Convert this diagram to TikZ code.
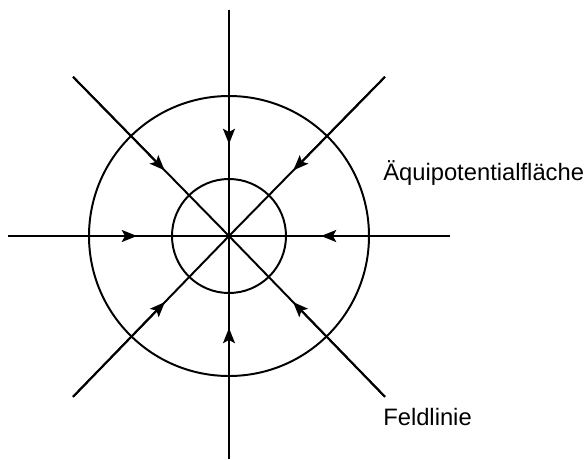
\documentclass[tikz,border=0pt]{standalone}
\usepackage{fontspec}
\setmainfont{Liberation Sans}
\usepackage{tikz}
\usetikzlibrary{arrows.meta, calc}

\begin{document}
\begin{tikzpicture}[>={Stealth[length=3.8mm,width=3mm,inset=0.8mm]},
   fline/.style={line width=1.4pt},
   equi/.style={line width=1.4pt},
   lbl/.style={anchor=base west,inner sep=0pt,font=\fontsize{16.9}{20}\selectfont}]
  \useasboundingbox (-5.725,-5.575) rectangle (8.925,5.9);
  \coordinate (O) at (0,0);
  % equipotential surfaces
  \draw[equi] (O) circle (3.5);
  \draw[equi] (O) circle (1.425);
  % ends of the field lines
  \coordinate (n) at (0,5.66);
  \coordinate (s) at (0,-5.575);
  \coordinate (w) at (-5.525,0);
  \coordinate (e) at (5.525,0);
  \coordinate (nw) at (-3.9,3.98);
  \coordinate (ne) at (3.9,3.98);
  \coordinate (sw) at (-3.9,-4.02);
  \coordinate (se) at (3.9,-4.02);
  % field lines pointing inwards
  \foreach \p in {n,s,w,e,nw,ne,sw,se}{
    \draw[fline] (\p) -- (O);
    \draw[fline,->] (\p) -- ($(O)!2.3cm!(\p)$);
  }
  % labels
  \node[lbl] (equilabel) at (3.85,1.38) {Äquipotentialfläche};
  \node[lbl] (fieldlabel) at (3.85,-4.725) {Feldlinie};
\end{tikzpicture}
\end{document}
